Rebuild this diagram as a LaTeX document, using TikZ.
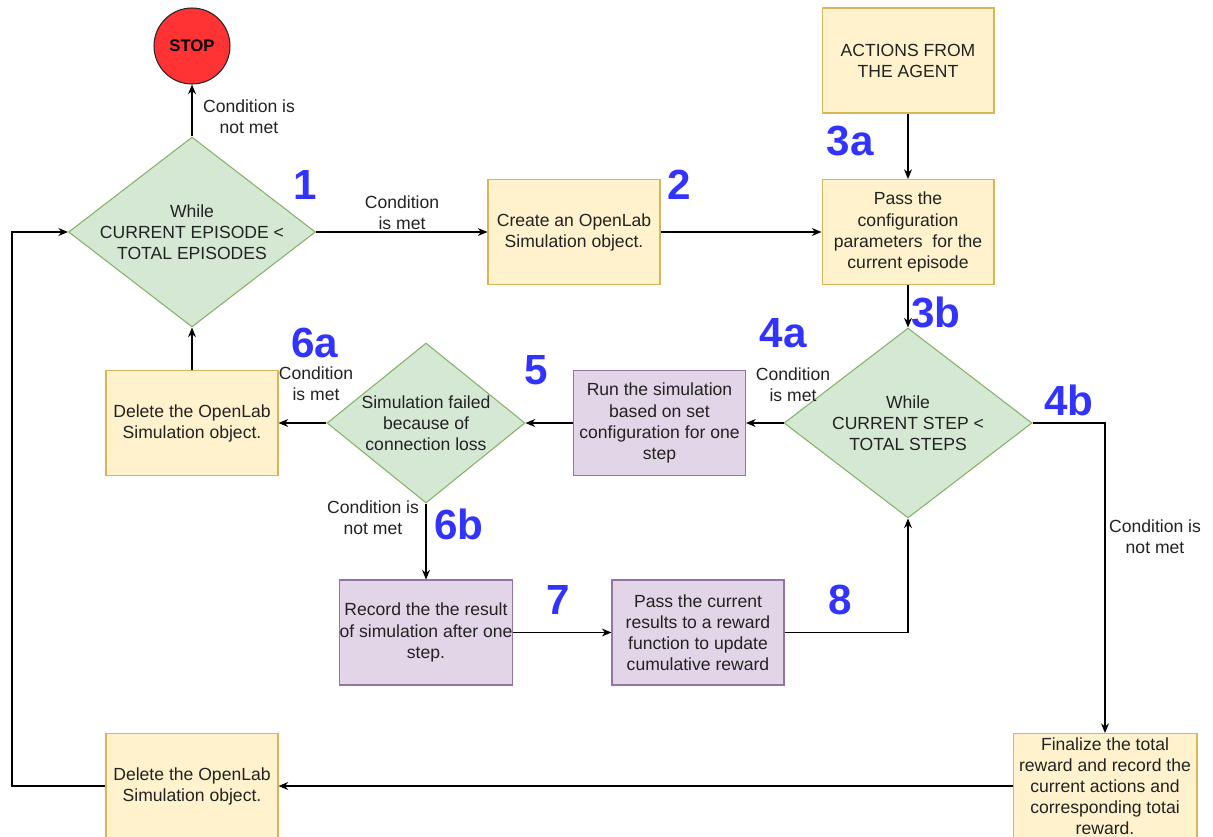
\documentclass[tikz,border=0pt]{standalone}
\usepackage{fontspec}
\setmainfont{Liberation Sans}
\usetikzlibrary{shapes.geometric,arrows.meta}

\definecolor{yfill}{HTML}{FFF2CC}
\definecolor{ydraw}{HTML}{D6B656}
\definecolor{gfill}{HTML}{D5E8D4}
\definecolor{gdraw}{HTML}{82B366}
\definecolor{pfill}{HTML}{E1D5E7}
\definecolor{pdraw}{HTML}{9673A6}
\definecolor{stopred}{HTML}{FF3333}
\definecolor{stepblue}{HTML}{3333FF}
\definecolor{txt}{HTML}{222222}

\begin{document}
\begin{tikzpicture}[x=0.02cm,y=-0.02cm,
  basefont/.style={font=\fontsize{10}{12}\selectfont, text=txt},
  ybox/.style={basefont, draw=ydraw, fill=yfill, line width=0.6pt,
    minimum width=3.44cm, minimum height=2.1cm, inner sep=0pt, align=center},
  pbox/.style={ybox, draw=pdraw, fill=pfill},
  decision/.style={diamond, draw=gdraw, fill=gfill, line width=0.6pt, inner sep=0pt},
  dtext/.style={basefont, align=center, inner sep=0pt},
  lbl/.style={basefont, align=center, inner sep=0pt},
  num/.style={text=stepblue, font=\fontsize{24}{24}\selectfont\bfseries, inner sep=0pt},
  flow/.style={draw=black, line width=0.6pt, -{Stealth[length=5.5pt,width=4.5pt]}}
]
\clip (0,0) rectangle (1213,836);
\fill[white] (0,0) rectangle (1213,836);

% nodes
\node[circle, draw=black!85, fill=stopred, line width=0.6pt, minimum size=1.52cm,
  inner sep=0pt, font=\fontsize{9.5}{11}\selectfont\bfseries] (stop) at (192,46) {STOP};

\node[decision, minimum width=4.94cm, minimum height=3.8cm] (d1) at (192,232) {};
\node[dtext] at (d1) {While\\CURRENT EPISODE <\\TOTAL EPISODES};

\node[ybox] (create) at (574,232) {Create an OpenLab\\Simulation object.};
\node[ybox] (actions) at (908,60.5) {ACTIONS FROM\\THE AGENT};
\node[ybox] (config) at (908,232) {Pass the\\configuration\\parameters\ \ for the\\current episode};

\node[decision, minimum width=4.96cm, minimum height=3.8cm] (d4) at (908,423) {};
\node[dtext] at (d4) {While\\CURRENT STEP <\\TOTAL STEPS};

\node[pbox] (run) at (659.5,423) {Run the simulation\\based on set\\configuration for one\\step};

\node[decision, minimum width=3.96cm, minimum height=3.2cm] (d5) at (426,423) {};
\node[dtext] at (d5) {Simulation failed\\because of\\connection loss};

\node[ybox] (del1) at (192,423) {Delete the OpenLab\\Simulation object.};
\node[pbox] (record) at (426,632.5) {Record the the result\\of simulation after one\\step.};
\node[pbox] (pass) at (698,632.5) {Pass the current\\results to a reward\\function to update\\cumulative reward};
\node[ybox, minimum width=3.68cm] (final) at (1105,786) {Finalize the total\\reward and record the\\current actions and\\corresponding totai\\reward.};
\node[ybox] (del2) at (192,786) {Delete the OpenLab\\Simulation object.};

\coordinate (loopx) at (12,0);

% connectors
\draw[flow] (d1.north) -- (stop.south);
\draw[flow] (d1.east) -- (create.west);
\draw[flow] (create.east) -- (config.west);
\draw[flow] (actions.south) -- (config.north);
\draw[flow] (config.south) -- (d4.north);
\draw[flow] (d4.west) -- (run.east);
\draw[flow] (run.west) -- (d5.east);
\draw[flow] (d5.west) -- (del1.east);
\draw[flow] (del1.north) -- (d1.south);
\draw[flow] (d5.south) -- (record.north);
\draw[flow] (record.east) -- (pass.west);
\draw[flow] (pass.east) -| (d4.south);
\draw[flow] (d4.east) -| (final.north);
\draw[flow] (final.west) -- (del2.east);
\draw[flow] (del2.west) -- (del2.west -| loopx) |- (d1.west);

% edge labels
\node[lbl] at (249,117) {Condition is\\not met};
\node[lbl] at (402,213) {Condition\\is met};
\node[lbl] at (793,385) {Condition\\is met};
\node[lbl] at (1155,537) {Condition is\\not met};
\node[lbl] at (316,384) {Condition\\is met};
\node[lbl] at (373,518) {Condition is\\not met};

% step numbers
\node[num] at (305,185) {1};
\node[num] at (679,185) {2};
\node[num] at (850,141) {3a};
\node[num] at (936,312) {3b};
\node[num] at (783,333) {4a};
\node[num] at (1069,400) {4b};
\node[num] at (536,370) {5};
\node[num] at (315,343) {6a};
\node[num] at (459,524) {6b};
\node[num] at (558,600) {7};
\node[num] at (840,600) {8};
\end{tikzpicture}
\end{document}
